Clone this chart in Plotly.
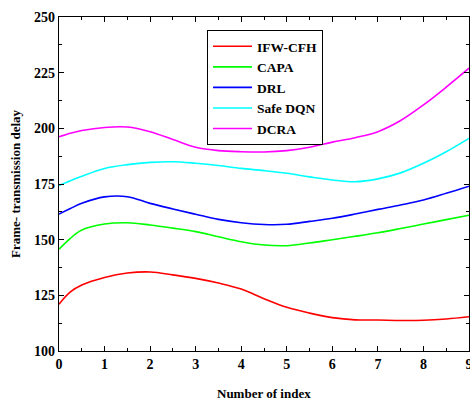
import plotly.graph_objects as go

x_index = [0, 0.25, 0.5, 1, 1.5, 2, 2.5, 3, 3.5, 4, 4.5, 5, 5.5, 6, 6.5, 7, 7.5, 8, 8.5, 9]

ifw_cfh = [121, 126.5, 129.6, 133, 135, 135.5, 134.2, 132.6, 130.5, 127.8, 123.5, 119.6, 117, 115, 114, 113.9, 113.7, 113.8, 114.4, 115.4]
capa = [145.7, 150.6, 154.3, 157, 157.6, 156.6, 155.2, 153.6, 151.3, 149.1, 147.6, 147.3, 148.5, 150, 151.5, 153.1, 155, 157, 159, 161]
drl = [161.5, 164, 166.3, 169.2, 169.3, 166.3, 163.8, 161.4, 159.1, 157.6, 156.8, 156.9, 158.2, 159.6, 161.5, 163.6, 165.6, 167.8, 170.8, 174]
safe_dqn = [174.3, 176.5, 178.5, 182, 183.7, 184.7, 185, 184.3, 183.3, 182, 181, 179.8, 178.2, 176.8, 176, 177.3, 180, 184.3, 189.5, 195.5]
dcra = [196.2, 197.8, 199, 200.4, 200.6, 198.5, 195, 191.5, 190, 189.5, 189.4, 190, 191.5, 193.8, 195.8, 198.5, 203.5, 210.5, 218.5, 227]

series_names = ["IFW-CFH", "CAPA", "DRL", "Safe DQN", "DCRA"]
series_values = [ifw_cfh, capa, drl, safe_dqn, dcra]
series_colors = ["#ff0000", "#00ff00", "#0000ff", "#00ffff", "#ff00ff"]

x_ticks = [0, 1, 2, 3, 4, 5, 6, 7, 8, 9]
y_ticks = [100, 125, 150, 175, 200, 225, 250]

FONT = "Liberation Serif"

fig = go.Figure()
for name, vals, col in zip(series_names, series_values, series_colors):
    fig.add_trace(go.Scatter(
        x=x_index, y=vals, name=name, mode="lines",
        line=dict(color=col, width=1.6, shape="spline", smoothing=1.0),
    ))

axis_common = dict(
    showline=True, linecolor="black", linewidth=1.3, mirror="ticks",
    ticks="inside", ticklen=5, tickwidth=1, tickcolor="black",
    showgrid=False, zeroline=False, automargin=False,
    ticklabeloverflow="allow",
    tickfont=dict(family=FONT, size=14, color="black", weight="bold"),
)

fig.update_xaxes(
    range=[0, 9], tickvals=x_ticks, ticktext=[str(t) for t in x_ticks],
    minor=dict(ticks="inside", ticklen=3, dtick=0.5, tickcolor="black", tickwidth=1),
    **axis_common,
)
fig.update_yaxes(
    range=[100, 250], tickvals=y_ticks, ticktext=[str(t) for t in y_ticks],
    minor=dict(ticks="inside", ticklen=3, dtick=12.5, tick0=100, tickcolor="black", tickwidth=1),
    **axis_common,
)

fig.update_layout(
    width=470, height=403,
    margin=dict(l=59, r=1, t=17, b=52),
    paper_bgcolor="white", plot_bgcolor="white",
    showlegend=True,
    legend=dict(
        x=0.361, y=0.961, xanchor="left", yanchor="top",
        bordercolor="black", borderwidth=1, bgcolor="white",
        font=dict(family=FONT, size=13.5, color="black", weight="bold"),
        itemwidth=39, tracegroupgap=0,
    ),
    annotations=[
        dict(text="<b>Number of index</b>", x=0.5, y=(351 - 393) / 334, xref="paper", yref="paper",
             xanchor="center", yanchor="middle", showarrow=False,
             font=dict(family=FONT, size=13, color="black")),
        dict(text="<b>Frame- transmission delay</b>", x=(15 - 59) / 410, y=0.5, xref="paper", yref="paper",
             xanchor="center", yanchor="middle", showarrow=False, textangle=-90,
             font=dict(family=FONT, size=13, color="black")),
    ],
)

fig.write_html(
    "out.html",
    config={"displayModeBar": False},
    post_script="document.body.style.margin='0';document.body.style.padding='0';document.body.style.overflow='hidden';",
)
